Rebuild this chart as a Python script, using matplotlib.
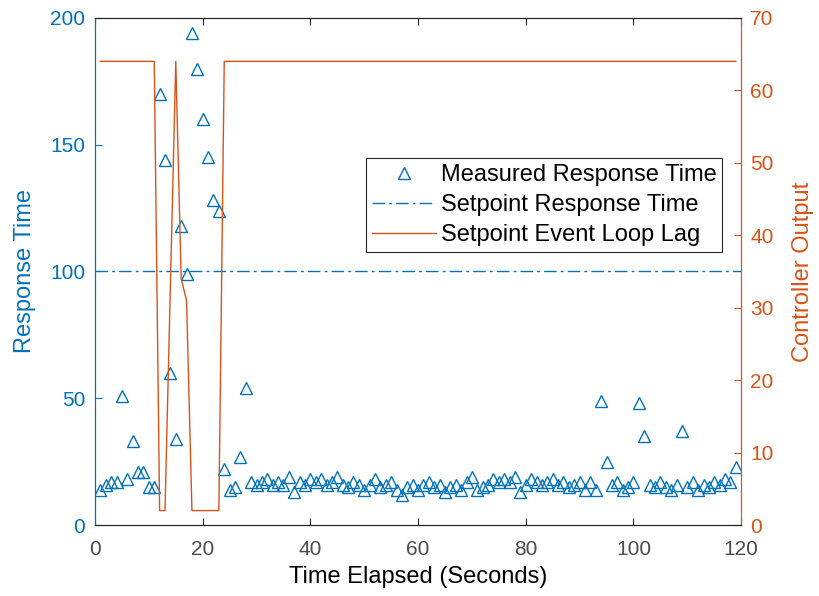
import matplotlib.pyplot as plt
import numpy as np

plt.rcParams['font.family'] = ['Liberation Sans', 'DejaVu Sans']

blue = '#0072BD'
orange = '#D95319'
dark = '#262626'

# measured response time, one sample per second
t = np.arange(1, 120)
response = [14, 16, 17, 17, 51, 18, 33, 21, 21, 15,
            15, 170, 144, 60, 34, 118, 99, 194, 180, 160,
            145, 128, 124, 22, 14, 15, 27, 54, 17, 16,
            17, 18, 16, 17, 16, 19, 13, 17, 16, 18,
            17, 18, 16, 17, 19, 16, 15, 17, 16, 14,
            16, 18, 15, 16, 17, 14, 12, 15, 16, 14,
            16, 17, 15, 16, 13, 15, 16, 14, 17, 19,
            14, 15, 16, 18, 17, 18, 17, 19, 13, 16,
            18, 17, 16, 17, 18, 16, 17, 15, 16, 17,
            14, 17, 14, 49, 25, 16, 17, 14, 15, 17,
            48, 35, 16, 15, 17, 15, 14, 16, 37, 15,
            17, 14, 16, 15, 17, 16, 18, 17, 23]
setpoint_response = 100

# controller output (event loop lag setpoint)
controller = [64] * 11 + [2, 2, 33, 64, 34, 31, 2, 2, 2, 2, 2, 2] + [64] * 96

fig = plt.figure(figsize=(8.19, 5.96), dpi=100)
ax = fig.add_axes([0.116, 0.119, 0.789, 0.851])
ax2 = ax.twinx()

l1, = ax.plot(t, response, linestyle='none', marker='^', markersize=9,
              markerfacecolor='none', markeredgecolor=blue, markeredgewidth=1.0)
l2, = ax.plot([0, 120], [setpoint_response, setpoint_response], color=blue,
              linewidth=1.0, linestyle=(0, (9, 3, 2, 3)))
l3, = ax2.plot(t, controller, color=orange, linewidth=1.0)

ax.set_xlim(0, 120)
ax.set_ylim(0, 200)
ax2.set_ylim(0, 70)
ax.set_xticks(np.arange(0, 121, 20))
ax.set_yticks(np.arange(0, 201, 50))
ax2.set_yticks(np.arange(0, 71, 10))

ax.set_xlabel('Time Elapsed (Seconds)', fontsize=17, color='black', labelpad=5)
ax.set_ylabel('Response Time', fontsize=17, color=blue, labelpad=10)
ax2.set_ylabel('Controller Output', fontsize=17, color=orange, labelpad=13)

ax.tick_params(axis='x', direction='in', top=True, length=5, width=0.8,
               colors=dark, labelsize=15, labelcolor='#4d4d4d', pad=11)
ax.tick_params(axis='y', direction='in', length=5, width=0.8,
               colors=blue, labelsize=15, pad=7)
ax2.tick_params(axis='y', direction='in', length=5, width=0.8,
                colors=orange, labelsize=15, pad=6.5)

for a in (ax, ax2):
    a.spines['top'].set_color(dark)
    a.spines['bottom'].set_color(dark)
    a.spines['left'].set_color(blue)
    a.spines['right'].set_color(orange)

leg = ax.legend([l1, l2, l3],
                ['Measured Response Time', 'Setpoint Response Time',
                 'Setpoint Event Loop Lag'],
                loc='upper right', bbox_to_anchor=(0.971, 0.724),
                borderaxespad=0, fontsize=17, fancybox=False, framealpha=1,
                edgecolor=dark, handlelength=2.7, borderpad=0.25,
                labelspacing=0.35, handletextpad=0.2)
leg.get_frame().set_linewidth(0.8)

fig.savefig('out.png')
